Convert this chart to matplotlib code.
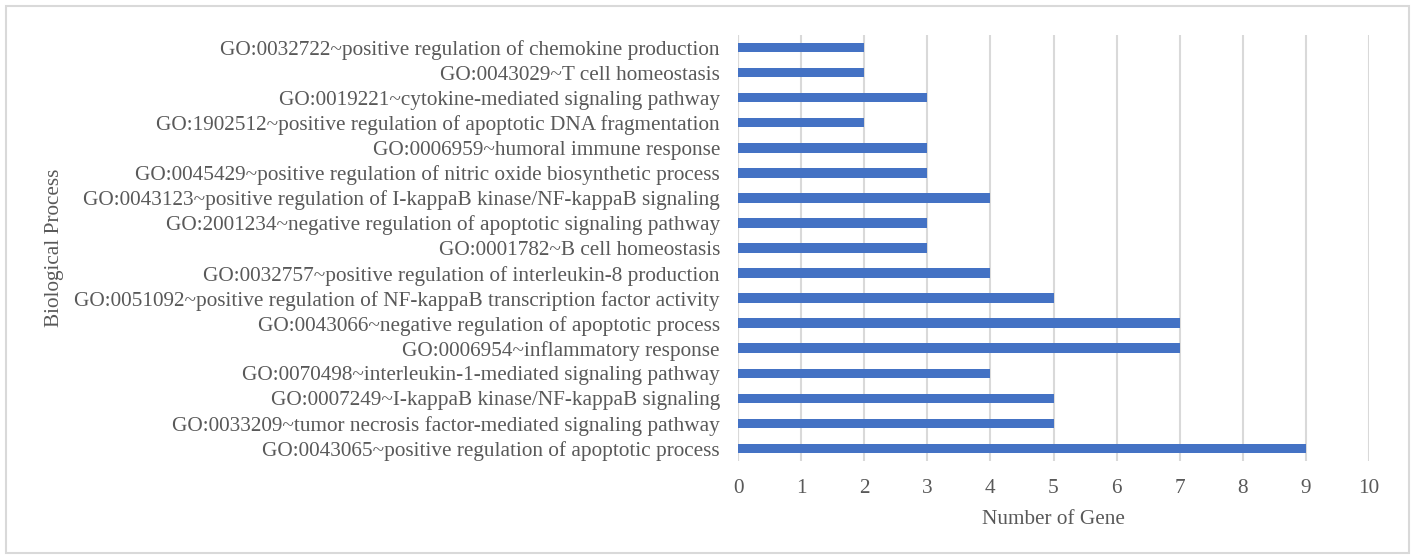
import matplotlib
matplotlib.use("Agg")
import matplotlib.pyplot as plt
from matplotlib.patches import Rectangle

categories = [
    "GO:0043065~positive regulation of apoptotic process",
    "GO:0033209~tumor necrosis factor-mediated signaling pathway",
    "GO:0007249~I-kappaB kinase/NF-kappaB signaling",
    "GO:0070498~interleukin-1-mediated signaling pathway",
    "GO:0006954~inflammatory response",
    "GO:0043066~negative regulation of apoptotic process",
    "GO:0051092~positive regulation of NF-kappaB transcription factor activity",
    "GO:0032757~positive regulation of interleukin-8 production",
    "GO:0001782~B cell homeostasis",
    "GO:2001234~negative regulation of apoptotic signaling pathway",
    "GO:0043123~positive regulation of I-kappaB kinase/NF-kappaB signaling",
    "GO:0045429~positive regulation of nitric oxide biosynthetic process",
    "GO:0006959~humoral immune response",
    "GO:1902512~positive regulation of apoptotic DNA fragmentation",
    "GO:0019221~cytokine-mediated signaling pathway",
    "GO:0043029~T cell homeostasis",
    "GO:0032722~positive regulation of chemokine production",
]
values = [9, 5, 5, 4, 7, 7, 5, 4, 3, 3, 4, 3, 3, 2, 3, 2, 2]
xticks = list(range(0, 11))

plt.rcParams['font.family'] = ['Liberation Serif', 'DejaVu Serif']
text_color = '#595959'
grid_color = '#d9d9d9'
fs = 15.3

W, H = 1416, 559
fig = plt.figure(figsize=(W / 100, H / 100), dpi=100)
ax = fig.add_axes([738 / W, 1 - 461 / H, (1369 - 738) / W, (461 - 35) / H])

ypos = list(range(len(categories)))
ax.barh(ypos, values, height=0.38, color='#4472C4', zorder=3)
ax.set_xlim(0, 10)
ax.set_ylim(-0.5, len(categories) - 0.5)
ax.set_xticks(xticks)
ax.set_yticks(ypos)
ax.set_yticklabels(categories)
ax.xaxis.grid(True, color=grid_color, linewidth=1.5, zorder=0)
ax.set_axisbelow(True)
for s in ax.spines.values():
    s.set_visible(False)
ax.axvline(0, color=grid_color, linewidth=1.5, zorder=1)
ax.tick_params(axis='both', length=0, labelsize=fs, colors=text_color)
ax.tick_params(axis='y', pad=13)
ax.tick_params(axis='x', pad=13)

fig.text(1053.5 / W, 1 - 520 / H, "Number of Gene", ha='center', va='center',
         fontsize=fs, color=text_color)
fig.text(55 / W, 1 - 248 / H, "Biological Process", ha='center', va='center',
         rotation=90, fontsize=fs, color=text_color)

fig.patches.append(Rectangle((6 / W, 1 - 553 / H), (1409 - 6) / W, (553 - 6) / H,
                             transform=fig.transFigure, fill=False,
                             edgecolor=grid_color, linewidth=1.5))

fig.savefig("out.png", dpi=100, facecolor='white')
